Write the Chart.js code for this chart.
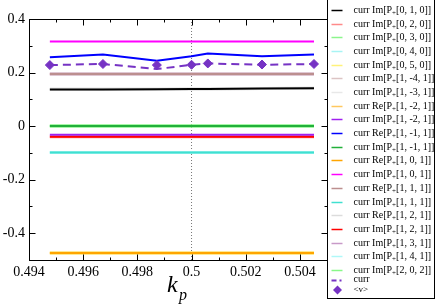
<!DOCTYPE html>
<html>
<head>
<meta charset="utf-8">
<script src="https://cdn.jsdelivr.net/npm/chart.js@4.4.0/dist/chart.umd.min.js"></script>
<style>
  html, body { margin: 0; padding: 0; background: #fff; }
  canvas { display: block; }
</style>
</head>
<body>
<canvas id="chart" width="436" height="308"></canvas>
<script>
// --- Datos ---
const kp = [0.49477, 0.49673, 0.49872, 0.50000, 0.50060, 0.50260, 0.50452];

const imP010  = [0.137, 0.137, 0.138, 0.139, 0.139, 0.140, 0.141];
const imP020  = [-0.040, -0.040, -0.040, -0.040, -0.040, -0.040, -0.040];
const imP030  = [0.000, 0.000, 0.000, 0.000, 0.000, 0.000, 0.000];
const imP040  = [-0.099, -0.099, -0.099, -0.099, -0.099, -0.099, -0.099];
const imP050  = [-0.474, -0.474, -0.474, -0.474, -0.474, -0.474, -0.474];
const imP1m41 = [0.195, 0.195, 0.195, 0.195, 0.195, 0.195, 0.195];
const imP1m31 = [0.138, 0.138, 0.138, 0.139, 0.139, 0.140, 0.141];
const reP1m21 = [-0.474, -0.474, -0.474, -0.474, -0.474, -0.474, -0.474];
const imP1m21 = [-0.032, -0.032, -0.032, -0.032, -0.032, -0.032, -0.032];
const reP1m11 = [0.257, 0.267, 0.244, 0.261, 0.271, 0.261, 0.267];
const imP1m11 = [0.000, 0.000, 0.000, 0.000, 0.000, 0.000, 0.000];
const reP101  = [-0.474, -0.474, -0.474, -0.474, -0.474, -0.474, -0.474];
const imP101  = [0.316, 0.316, 0.316, 0.316, 0.316, 0.316, 0.316];
const reP111  = [0.195, 0.195, 0.195, 0.195, 0.195, 0.195, 0.195];
const imP111  = [-0.099, -0.099, -0.099, -0.099, -0.099, -0.099, -0.099];
const reP121  = [0.138, 0.138, 0.138, 0.139, 0.139, 0.140, 0.141];
const imP121  = [-0.040, -0.040, -0.040, -0.040, -0.040, -0.040, -0.040];
const imP131  = [0.195, 0.195, 0.195, 0.195, 0.195, 0.195, 0.195];
const imP141  = [-0.099, -0.099, -0.099, -0.099, -0.099, -0.099, -0.099];
const imP202  = [0.000, 0.000, 0.000, 0.000, 0.000, 0.000, 0.000];
const curr    = [0.228, 0.232, 0.213, 0.229, 0.234, 0.229, 0.232];
const vMean   = [0.228, 0.232, 0.228, 0.229, 0.234, 0.230, 0.232];

const seriesNames = [
  'curr Im[P+[0, 1, 0]]', 'curr Im[P+[0, 2, 0]]', 'curr Im[P+[0, 3, 0]]',
  'curr Im[P+[0, 4, 0]]', 'curr Im[P+[0, 5, 0]]', 'curr Im[P+[1, -4, 1]]',
  'curr Im[P+[1, -3, 1]]', 'curr Re[P+[1, -2, 1]]', 'curr Im[P+[1, -2, 1]]',
  'curr Re[P+[1, -1, 1]]', 'curr Im[P+[1, -1, 1]]', 'curr Re[P+[1, 0, 1]]',
  'curr Im[P+[1, 0, 1]]', 'curr Re[P+[1, 1, 1]]', 'curr Im[P+[1, 1, 1]]',
  'curr Re[P+[1, 2, 1]]', 'curr Im[P+[1, 2, 1]]', 'curr Im[P+[1, 3, 1]]',
  'curr Im[P+[1, 4, 1]]', 'curr Im[P+[2, 0, 2]]'
];
const seriesData = [
  imP010, imP020, imP030, imP040, imP050, imP1m41, imP1m31, reP1m21, imP1m21,
  reP1m11, imP1m11, reP101, imP101, reP111, imP111, reP121, imP121, imP131,
  imP141, imP202
];

const xTickLabels = [0.494, 0.496, 0.498, 0.5, 0.502, 0.504];
const xMinorTicks = [0.495, 0.497, 0.499, 0.501, 0.503];
const yTickLabels = [-0.4, -0.2, 0, 0.2, 0.4];
const yMinorTicks = [-0.3, -0.1, 0.1, 0.3];

// --- Estilos ---
const seriesColors = [
  '#000000', '#ff8a8a', '#8cf58c', '#a8f4f4', '#fff27a', '#dcc4c4',
  '#e8e8e8', '#ffc860', '#a020f0', '#0000ff', '#22b03a', '#ffa500',
  '#ff00ff', '#bc8f8f', '#40e0d0', '#dcdcdc', '#ff0000', '#c89ac8',
  '#b0f8f8', '#88f888'
];
const faded = [false, true, true, true, true, true, true, true, false, false,
  false, false, false, false, false, true, false, true, true, true];
const purpleMean = '#7633c4';
const SERIF = "'Liberation Serif', 'DejaVu Serif', serif";

Chart.defaults.font.family = SERIF;
Chart.defaults.color = '#000';

const toPoints = arr => arr.map((v, i) => ({ x: kp[i], y: v }));

const datasets = seriesData.map((arr, i) => ({
  label: seriesNames[i],
  data: toPoints(arr),
  borderColor: seriesColors[i],
  borderWidth: faded[i] ? 3 : 2,
  pointRadius: 0,
  tension: 0,
  order: faded[i] ? 1 : 0
}));

datasets.push({
  label: 'curr',
  data: toPoints(curr),
  borderColor: purpleMean,
  borderWidth: 2,
  borderDash: [8, 5],
  pointRadius: 0,
  order: -1
});
datasets.push({
  label: '<v>',
  data: toPoints(vMean),
  showLine: false,
  pointStyle: 'rectRot',
  pointRadius: 4.5,
  backgroundColor: purpleMean,
  borderColor: purpleMean,
  borderWidth: 1,
  order: -2
});
// línea punteada en k_p = 0.5
datasets.push({
  label: 'ref',
  data: [{ x: 0.5, y: -0.5 }, { x: 0.5, y: 0.4 }],
  borderColor: '#777',
  borderWidth: 1,
  borderDash: [1, 2],
  pointRadius: 0,
  order: 3
});

// --- Marco, ticks hacia dentro, título y leyenda ---
const decorPlugin = {
  id: 'decor',
  afterDraw(chart) {
    const { ctx, chartArea: a, scales: { x, y } } = chart;
    ctx.save();
    ctx.strokeStyle = '#000';
    ctx.lineWidth = 1;
    const L = Math.round(a.left) + 0.5, R = Math.round(a.right) + 0.5;
    const T = Math.round(a.top) + 0.5, B = Math.round(a.bottom) + 0.5;
    ctx.strokeRect(L, T, R - L, B - T);

    ctx.beginPath();
    const tickX = (v, len) => {
      const px = Math.round(x.getPixelForValue(v)) + 0.5;
      ctx.moveTo(px, B); ctx.lineTo(px, B - len);
      ctx.moveTo(px, T); ctx.lineTo(px, T + len);
    };
    const tickY = (v, len) => {
      const py = Math.round(y.getPixelForValue(v)) + 0.5;
      ctx.moveTo(L, py); ctx.lineTo(L + len, py);
      ctx.moveTo(R, py); ctx.lineTo(R - len, py);
    };
    xTickLabels.forEach(v => tickX(v, 6));
    xMinorTicks.forEach(v => tickX(v, 3));
    yTickLabels.forEach(v => tickY(v, 6));
    yMinorTicks.forEach(v => tickY(v, 3));
    ctx.stroke();

    // título del eje x: k_p
    const cx = (a.left + a.right) / 2;
    ctx.fillStyle = '#000';
    ctx.textBaseline = 'alphabetic';
    ctx.textAlign = 'left';
    ctx.font = 'italic 24px ' + SERIF;
    ctx.fillText('k', cx - 11, 292);
    ctx.font = 'italic 16px ' + SERIF;
    ctx.fillText('p', cx + 1, 300);

    // leyenda
    const lx = R, lw = 107;
    ctx.fillStyle = '#fff';
    ctx.fillRect(lx, 0, lw, 298);
    ctx.strokeStyle = '#000';
    ctx.strokeRect(lx, -0.5, lw, 299);
    ctx.textBaseline = 'middle';
    const rowY = i => 10 + i * 13.68;
    seriesNames.forEach((name, i) => {
      const yy = Math.round(rowY(i)) + 0.5;
      ctx.strokeStyle = seriesColors[i];
      ctx.lineWidth = 1.5;
      ctx.beginPath();
      ctx.moveTo(lx + 4, yy); ctx.lineTo(lx + 15, yy);
      ctx.stroke();
      const [pre, post] = name.split('+');
      ctx.fillStyle = '#000';
      ctx.font = '10px ' + SERIF;
      let tx = lx + 26;
      ctx.fillText(pre, tx, yy);
      tx += ctx.measureText(pre).width;
      ctx.font = '7px ' + SERIF;
      ctx.fillText('+', tx, yy + 3);
      tx += ctx.measureText('+').width;
      ctx.font = '10px ' + SERIF;
      ctx.fillText(post, tx, yy);
    });
    // entrada "curr" (línea discontinua)
    const y21 = 280.5;
    ctx.strokeStyle = purpleMean;
    ctx.lineWidth = 2;
    ctx.beginPath();
    ctx.moveTo(lx + 4, y21); ctx.lineTo(lx + 9, y21);
    ctx.moveTo(lx + 12, y21); ctx.lineTo(lx + 14, y21);
    ctx.stroke();
    ctx.fillStyle = '#000';
    ctx.font = '10px ' + SERIF;
    ctx.fillText('curr', lx + 26, y21 - 1);
    // entrada "<v>" (rombo)
    const y22 = 290;
    ctx.fillStyle = purpleMean;
    ctx.beginPath();
    ctx.moveTo(lx + 10, y22 - 4.5); ctx.lineTo(lx + 14.5, y22);
    ctx.lineTo(lx + 10, y22 + 4.5); ctx.lineTo(lx + 5.5, y22);
    ctx.closePath();
    ctx.fill();
    ctx.fillStyle = '#000';
    ctx.font = '9px ' + SERIF;
    ctx.fillText('<v>', lx + 26, y22);
    ctx.restore();
  }
};

const chart = new Chart(document.getElementById('chart'), {
  type: 'line',
  data: { datasets },
  options: {
    responsive: false,
    animation: false,
    devicePixelRatio: 1,
    layout: { padding: { top: 19, right: 109, left: 0, bottom: 0 } },
    plugins: { legend: { display: false }, tooltip: { enabled: false } },
    scales: {
      x: {
        type: 'linear',
        min: 0.494,
        max: 0.505,
        grid: { display: false, drawTicks: false },
        border: { display: false },
        afterBuildTicks: s => { s.ticks = xTickLabels.map(v => ({ value: v })); },
        afterFit: s => { s.height = 48; },
        ticks: {
          padding: 4,
          maxRotation: 0,
          autoSkip: false,
          font: { size: 14 },
          callback: v => String(Number(v.toFixed(3)))
        }
      },
      y: {
        type: 'linear',
        min: -0.5,
        max: 0.4,
        grid: { display: false, drawTicks: false },
        border: { display: false },
        afterBuildTicks: s => { s.ticks = yTickLabels.map(v => ({ value: v })); },
        afterFit: s => { s.width = 29; },
        ticks: {
          padding: 4,
          autoSkip: false,
          font: { size: 14 },
          callback: v => String(Number(v.toFixed(1)))
        }
      }
    }
  },
  plugins: [decorPlugin]
});
</script>
</body>
</html>
